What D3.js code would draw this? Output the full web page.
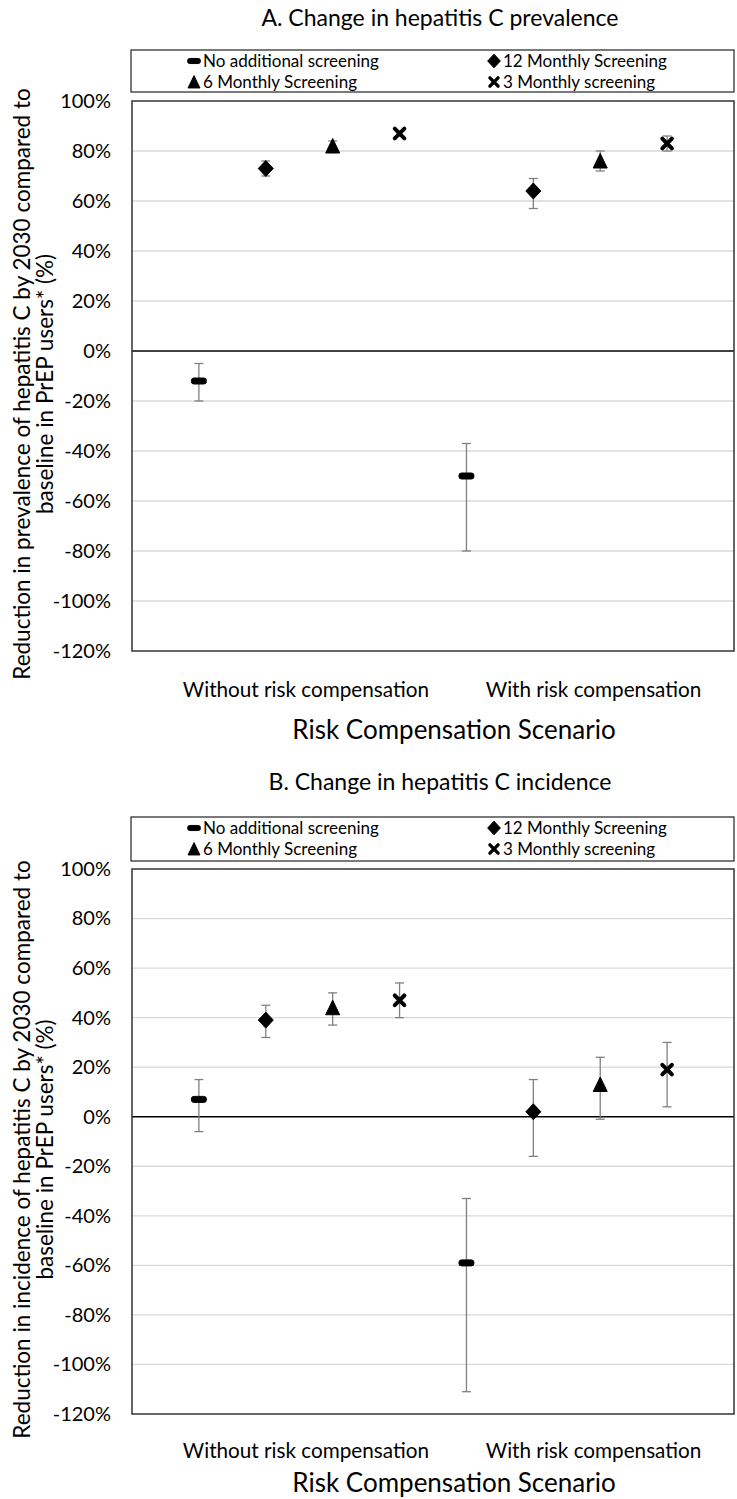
<!DOCTYPE html>
<html>
<head>
<meta charset="utf-8">
<script src="https://cdn.jsdelivr.net/npm/d3@7"></script>
<style>
  body { margin: 0; background: #fff; }
  svg { display: block; }
  text { font-family: Lato, "Open Sans", sans-serif; fill: #000; }
</style>
</head>
<body>
<svg id="chart" width="737" height="1499"></svg>
<script>
// ---- data -------------------------------------------------------------
const categories = ["Without risk compensation", "With risk compensation"];
const seriesNames = ["No additional screening", "12 Monthly Screening", "6 Monthly Screening", "3 Monthly screening"];
const yTicks = [100, 80, 60, 40, 20, 0, -20, -40, -60, -80, -100, -120];

// values ordered by scenario, then screening strategy (%)
const prevalenceValue = [-12, 73, 82, 87, -50, 64, 76, 83];
const prevalenceLow   = [-20, 70, 81, 86, -80, 57, 72, 80];
const prevalenceHigh  = [-5, 76, 84, 88, -37, 69, 80, 86];

const incidenceValue = [7, 39, 44, 47, -59, 2, 13, 19];
const incidenceLow   = [-6, 32, 37, 40, -111, -16, -1, 4];
const incidenceHigh  = [15, 45, 50, 54, -33, 15, 24, 30];

// ---- layout -----------------------------------------------------------
const svg = d3.select("#chart");
const plotLeft = 132, plotRight = 734;
const nSeries = seriesNames.length;

const panels = [
  {
    title: "A. Change in hepatitis C prevalence",
    yTitle: ["Reduction in prevalence of hepatitis C by 2030 compared to", "baseline in PrEP users* (%)"],
    value: prevalenceValue, low: prevalenceLow, high: prevalenceHigh,
    titleY: 18, legendTop: 50, legendBottom: 92, top: 101, bottom: 651,
    catY: 690, xTitleY: 730
  },
  {
    title: "B. Change in hepatitis C incidence",
    yTitle: ["Reduction in incidence of hepatitis C by 2030 compared to", "baseline in PrEP users* (%)"],
    value: incidenceValue, low: incidenceLow, high: incidenceHigh,
    titleY: 782, legendTop: 817, legendBottom: 861, top: 869, bottom: 1414,
    catY: 1451, xTitleY: 1483
  }
];

// marker shapes, one per screening strategy
function markerPath(i, k) {
  const p = d3.path();
  if (i === 0) {            // rounded dash
    const w = 15 * k, h = 6 * k, r = 2.5 * k;
    p.moveTo(-w / 2 + r, -h / 2); p.lineTo(w / 2 - r, -h / 2);
    p.arcTo(w / 2, -h / 2, w / 2, -h / 2 + r, r);
    p.lineTo(w / 2, h / 2 - r);
    p.arcTo(w / 2, h / 2, w / 2 - r, h / 2, r);
    p.lineTo(-w / 2 + r, h / 2);
    p.arcTo(-w / 2, h / 2, -w / 2, h / 2 - r, r);
    p.lineTo(-w / 2, -h / 2 + r);
    p.arcTo(-w / 2, -h / 2, -w / 2 + r, -h / 2, r);
    p.closePath();
  } else if (i === 1) {     // diamond
    p.moveTo(0, -8 * k); p.lineTo(7.5 * k, 0); p.lineTo(0, 8 * k); p.lineTo(-7.5 * k, 0); p.closePath();
  } else if (i === 2) {     // triangle
    p.moveTo(0, -7.5 * k); p.lineTo(7 * k, 7 * k); p.lineTo(-7 * k, 7 * k); p.closePath();
  } else {                  // bold cross
    const a = 4.8 * k;
    p.moveTo(-a, -a); p.lineTo(a, a); p.moveTo(a, -a); p.lineTo(-a, a);
  }
  return p.toString();
}
function drawMarker(g, i, k) {
  if (i === 3) {
    g.append("path").attr("d", markerPath(i, k))
      .attr("fill", "none").attr("stroke", "#000").attr("stroke-width", 4 * k).attr("stroke-linecap", "round");
  } else {
    g.append("path").attr("d", markerPath(i, k))
      .attr("fill", "#000").attr("stroke", "#000").attr("stroke-width", 1).attr("stroke-linejoin", "round");
  }
}

const x = d3.scaleLinear().domain([0, categories.length * nSeries + 1]).range([plotLeft, plotRight]);
const catLabelPos = [2.6, 6.9];

panels.forEach(P => {
  const g = svg.append("g");
  const y = d3.scaleLinear().domain([-120, 100]).range([P.bottom, P.top]);

  // title
  g.append("text").attr("x", 440).attr("y", P.titleY + 8)
    .attr("text-anchor", "middle").attr("font-size", 23).text(P.title);

  // legend
  g.append("rect").attr("x", plotLeft - 1).attr("y", P.legendTop)
    .attr("width", plotRight - plotLeft + 1).attr("height", P.legendBottom - P.legendTop)
    .attr("fill", "#fff").attr("stroke", "#333").attr("stroke-width", 1.3);
  const legX = [194, 494], legY = [P.legendTop + 11, P.legendTop + 32];
  seriesNames.forEach((name, i) => {
    const lx = legX[i % 2], ly = legY[Math.floor(i / 2)];
    const lg = g.append("g").attr("transform", `translate(${lx},${ly})`);
    drawMarker(lg, i, 0.85);
    g.append("text").attr("x", lx + 9).attr("y", ly + 6).attr("font-size", 17).text(name);
  });

  // gridlines
  g.append("g").selectAll("line").data(yTicks.filter(t => t !== 0 && t !== 100 && t !== -120)).join("line")
    .attr("x1", plotLeft).attr("x2", plotRight)
    .attr("y1", d => y(d)).attr("y2", d => y(d))
    .attr("stroke", "#d9d9d9").attr("stroke-width", 1.3);

  // y axis tick labels
  const yAxis = d3.axisLeft(y).tickValues(yTicks).tickFormat(d => d + "%").tickSize(0).tickPadding(21);
  const ya = g.append("g").attr("transform", `translate(${plotLeft},0)`).call(yAxis);
  ya.select(".domain").remove();
  ya.selectAll("text").attr("font-size", 20).attr("font-family", "Lato, 'Open Sans', sans-serif").attr("fill", "#000");

  // zero line
  g.append("line").attr("x1", plotLeft).attr("x2", plotRight)
    .attr("y1", y(0)).attr("y2", y(0)).attr("stroke", "#000").attr("stroke-width", 1.3);

  // plot frame
  g.append("rect").attr("x", plotLeft).attr("y", P.top)
    .attr("width", plotRight - plotLeft).attr("height", P.bottom - P.top)
    .attr("fill", "none").attr("stroke", "#333").attr("stroke-width", 1.5);

  // error bars and markers
  const pts = P.value.map((v, j) => ({
    v, lo: P.low[j], hi: P.high[j], s: j % nSeries, c: Math.floor(j / nSeries), slot: j + 1
  }));
  const eb = g.append("g").attr("stroke", "#808080").attr("stroke-width", 1.3);
  pts.forEach(d => {
    const cx = x(d.slot);
    eb.append("line").attr("x1", cx).attr("x2", cx).attr("y1", y(d.hi)).attr("y2", y(d.lo));
    eb.append("line").attr("x1", cx - 4.5).attr("x2", cx + 4.5).attr("y1", y(d.hi)).attr("y2", y(d.hi));
    eb.append("line").attr("x1", cx - 4.5).attr("x2", cx + 4.5).attr("y1", y(d.lo)).attr("y2", y(d.lo));
  });
  pts.forEach(d => {
    const mg = g.append("g").attr("transform", `translate(${x(d.slot)},${y(d.v)})`);
    drawMarker(mg, d.s, 1);
  });

  // category labels
  categories.forEach((c, i) => {
    g.append("text").attr("x", x(catLabelPos[i])).attr("y", P.catY + 7)
      .attr("text-anchor", "middle").attr("font-size", 20.7).text(c);
  });

  // axis titles
  g.append("text").attr("x", 454).attr("y", P.xTitleY + 9)
    .attr("text-anchor", "middle").attr("font-size", 26).text("Risk Compensation Scenario");
  const yc = (P.top + P.bottom) / 2 + 8;
  P.yTitle.forEach((line, i) => {
    g.append("text").attr("transform", `translate(${30 + i * 23},${yc}) rotate(-90)`)
      .attr("text-anchor", "middle").attr("font-size", 22.5).text(line);
  });
});
</script>
</body>
</html>
